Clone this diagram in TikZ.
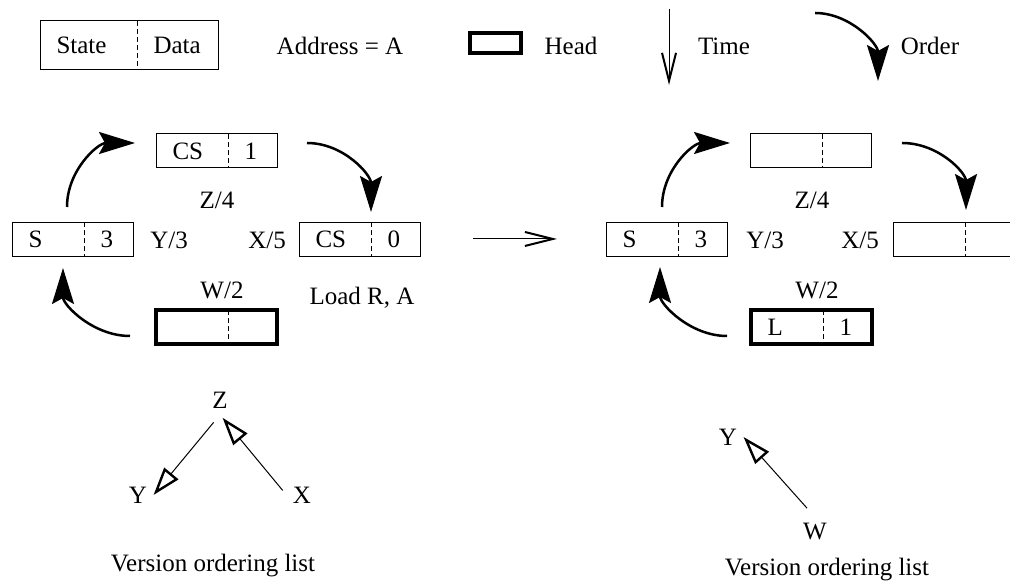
\documentclass[tikz,border=0pt]{standalone}
\usepackage{fontspec}
\setmainfont{Liberation Serif}
\usetikzlibrary{arrows.meta}

\begin{document}
\begin{tikzpicture}[x=0.5pt, y=-0.5pt, line width=0.5pt,
        font=\fontsize{12.5}{15}\selectfont,
        half/.style={inner xsep=8pt, inner ysep=0pt, align=left, anchor=west},
        ringL/.style={half, minimum height=16.5pt, text width=19.5pt},
        ringR/.style={half, minimum height=16.5pt, text width=8pt},
        keyL/.style={half, minimum height=24pt, text width=32pt},
        keyR/.style={half, minimum height=24pt, text width=24pt},
        headbox/.style={line width=2pt},
        divider/.style={dash pattern=on 2.5pt off 1.5pt},
        order/.style={line width=1.25pt, -{Stealth[length=18pt, width=11pt, inset=3pt]}},
        flow/.style={-{Straight Barb[length=14pt, width=7pt, line width=1pt]}},
        prec/.style={-{Triangle[open, length=14pt, width=9pt, line width=1.2pt]}},
        vlabel/.style={inner sep=3pt}]

        \useasboundingbox (0,0) rectangle (1010,581);

        % box split in state | data
        \def\cellbox#1#2#3#4#5#6#7{%
          \node[#3] (#1-l) at (#2) {#5};
          \node[#4] (#1-r) at (#1-l.east) {#6};
          \draw[#7] (#1-l.north west) rectangle (#1-r.south east);
          \draw[divider] (#1-l.north east) -- (#1-l.south east);
        }

        % legend
        \cellbox{key}{40,45.5}{keyL}{keyR}{State}{Data}{}
        \node (addr) at (340,46) {Address = A};
        \node[draw, headbox, minimum width=25.5pt, minimum height=10pt, inner sep=0pt] (headkey) at (495.5,43) {};
        \node (headtxt) at (571,46) {Head};
        \coordinate (tk0) at (669,9);
        \coordinate (tk1) at (669,85);
        \draw[flow] (tk0) -- (tk1);
        \node (timetxt) at (724,46) {Time};
        \coordinate (ok0) at (815,13);
        \coordinate (ok1) at (878,81);
        \draw[order] (ok0) .. controls +(35,0) and +(0,-37) .. (ok1);
        \node (ordertxt) at (930,46) {Order};

        % before the load
        \cellbox{ltop}{156,151}{ringL}{ringR}{CS}{1}{}
        \cellbox{lleft}{12,239.5}{ringL}{ringR}{S}{3}{}
        \cellbox{lright}{299,239.5}{ringL}{ringR}{CS}{0}{}
        \cellbox{lbot}{156,327.5}{ringL}{ringR}{}{}{headbox}
        \node (lz) at (217,200) {Z/4};
        \node (ly) at (169,240) {Y/3};
        \node (lx) at (267,240) {X/5};
        \node (lw) at (222,290) {W/2};
        \node (load) at (362,298) {Load R, A};
        \coordinate (la0) at (67,207);
        \coordinate (la1) at (135,143);
        \coordinate (lb0) at (307,143);
        \coordinate (lb1) at (371,212);
        \coordinate (lc0) at (130,336);
        \coordinate (lc1) at (63,268);
        \draw[order] (la0) .. controls +(0,-37) and +(-37,0) .. (la1);
        \draw[order] (lb0) .. controls +(37,0) and +(0,-37) .. (lb1);
        \draw[order] (lc0) .. controls +(-37,0) and +(0,37) .. (lc1);

        \coordinate (mv0) at (473,239);
        \coordinate (mv1) at (557,239);
        \draw[flow] (mv0) -- (mv1);

        % after the load
        \cellbox{rtop}{750,151}{ringL}{ringR}{}{}{}
        \cellbox{rleft}{606,239.5}{ringL}{ringR}{S}{3}{}
        \cellbox{rright}{893,239.5}{ringL}{ringR}{}{}{}
        \cellbox{rbot}{751,327.5}{ringL}{ringR}{L}{1}{headbox}
        \node (rz) at (812,200) {Z/4};
        \node (ry) at (765,240) {Y/3};
        \node (rx) at (860,240) {X/5};
        \node (rw) at (817,290) {W/2};
        \coordinate (ra0) at (662,207);
        \coordinate (ra1) at (730,143);
        \coordinate (rb0) at (902,143);
        \coordinate (rb1) at (966,210);
        \coordinate (rc0) at (727,336);
        \coordinate (rc1) at (660,267);
        \draw[order] (ra0) .. controls +(0,-37) and +(-37,0) .. (ra1);
        \draw[order] (rb0) .. controls +(37,0) and +(0,-37) .. (rb1);
        \draw[order] (rc0) .. controls +(-37,0) and +(0,37) .. (rc1);

        % version ordering lists
        \node[vlabel] (vz) at (220,400) {Z};
        \node[vlabel] (vy) at (138,495) {Y};
        \node[vlabel] (vx) at (302,495) {X};
        \draw[prec, shorten <=5pt] (vz.south) -- (vy.east);
        \draw[prec, shorten <=3pt, shorten >=2pt] (vx.west) -- (vz.south);
        \node (vlist) at (213,566) {Version ordering list};

        \node[vlabel] (wy) at (728,437) {Y};
        \node[vlabel] (ww) at (815,532) {W};
        \draw[prec, shorten <=6pt] (ww.north) -- (wy.east);
        \node (wlist) at (827,570) {Version ordering list};

      \end{tikzpicture}
\end{document}
